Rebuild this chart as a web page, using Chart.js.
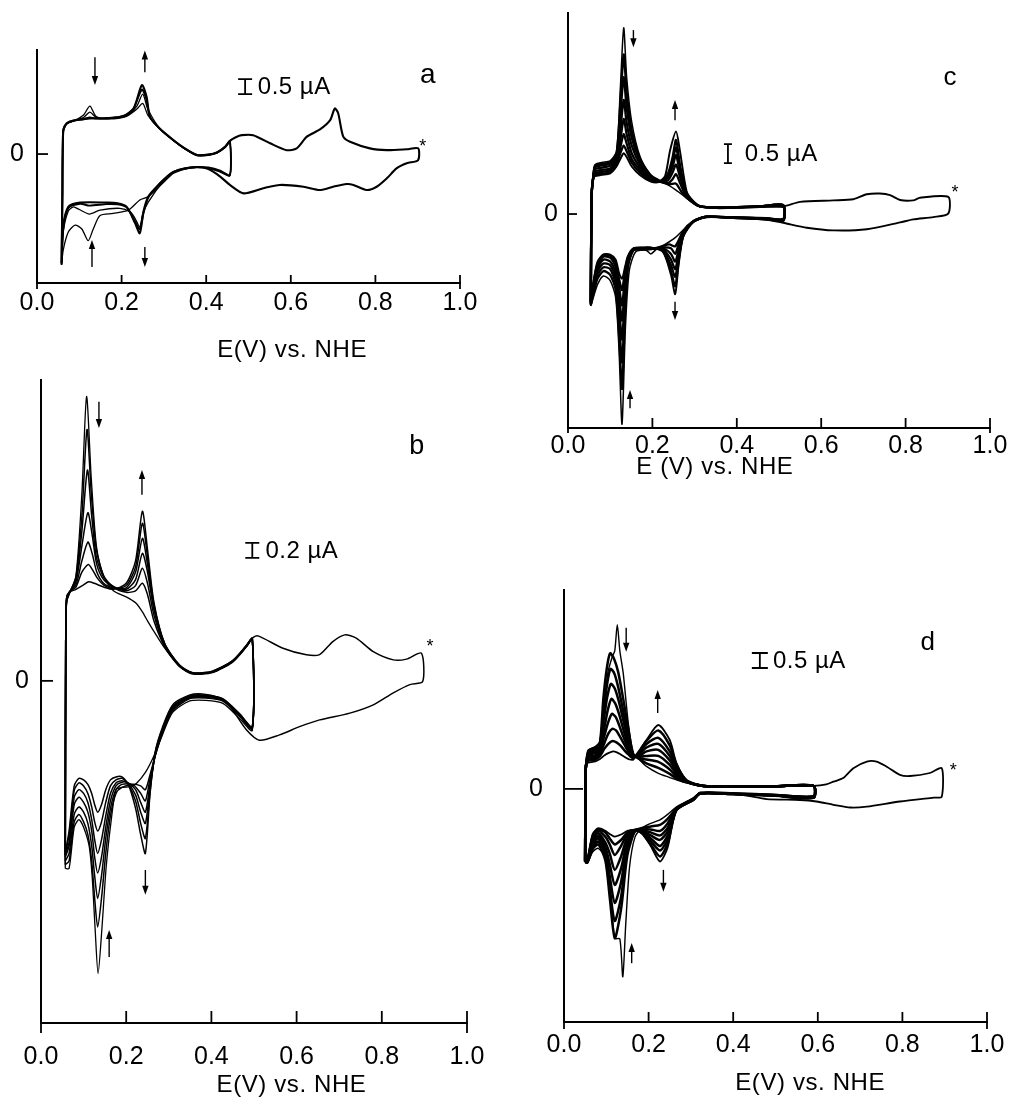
<!DOCTYPE html>
<html>
<head>
<meta charset="utf-8">
<title>Cyclic voltammograms a-d</title>
<script src="https://cdn.jsdelivr.net/npm/chart.js@4.4.1/dist/chart.umd.min.js"></script>
<style>
    body { margin: 0; background: #fff; }
    #figure { position: relative; width: 1011px; height: 1105px; }
    #figure canvas { position: absolute; }
</style>
</head>
<body>
<div id="figure">
    <canvas id="panelA" width="490" height="370" style="left:0px;top:0px"></canvas>
    <canvas id="panelB" width="490" height="735" style="left:0px;top:370px"></canvas>
    <canvas id="panelC" width="511" height="485" style="left:500px;top:0px"></canvas>
    <canvas id="panelD" width="511" height="525" style="left:500px;top:580px"></canvas>
</div>
<script>
// potential axis ticks (V vs. NHE)
const eTicks = [0, 0.2, 0.4, 0.6, 0.8, 1.0];

// ---- panel a : [E (V), I (uA)] ----
const aCycle1 = [[0.058,-3.7],[0.060,-1.5],[0.062,0.7],[0.070,1.0],[0.090,1.12],[0.110,1.3],[0.125,1.6],[0.140,1.25],[0.170,1.17],[0.210,1.25],[0.236,1.5],[0.250,1.69],[0.262,1.3],[0.290,0.85],[0.322,0.45],[0.350,0.17],[0.378,-0.05],[0.405,-0.04],[0.425,0.03],[0.445,0.22],[0.456,0.4],
    [0.456,-0.72],[0.433,-0.6],[0.405,-0.47],[0.378,-0.44],[0.350,-0.5],[0.322,-0.65],[0.299,-0.95],[0.263,-1.42],[0.243,-1.53],[0.216,-1.87],[0.180,-1.98],[0.149,-2.05],[0.133,-2.5],[0.121,-2.89],[0.106,-2.5],[0.090,-2.37],[0.074,-2.6],[0.062,-3.2],[0.058,-3.7]];
const aCycle2 = [[0.058,-3.7],[0.060,-1.5],[0.062,0.75],[0.070,1.01],[0.090,1.12],[0.110,1.22],[0.125,1.4],[0.140,1.22],[0.170,1.18],[0.210,1.26],[0.236,1.6],[0.250,2.0],[0.262,1.5],[0.290,0.85],[0.322,0.46],[0.350,0.17],[0.378,-0.04],[0.405,-0.03],[0.425,0.04],[0.445,0.23],[0.456,0.42],
    [0.456,-0.71],[0.433,-0.58],[0.405,-0.46],[0.378,-0.44],[0.350,-0.49],[0.322,-0.62],[0.299,-0.9],[0.263,-1.6],[0.250,-2.0],[0.243,-2.42],[0.230,-2.1],[0.220,-1.92],[0.196,-1.81],[0.149,-1.87],[0.124,-2.0],[0.100,-1.85],[0.086,-1.76],[0.074,-1.9],[0.062,-2.6],[0.058,-3.7]];
const aCycle3 = [[0.058,-3.68],[0.060,-1.5],[0.062,0.78],[0.070,1.02],[0.086,1.11],[0.110,1.16],[0.125,1.22],[0.140,1.18],[0.170,1.19],[0.204,1.27],[0.228,1.52],[0.248,2.15],[0.259,1.8],[0.267,1.24],[0.290,0.85],[0.322,0.47],[0.350,0.18],[0.378,-0.03],[0.405,-0.02],[0.425,0.05],[0.445,0.24],[0.456,0.42],
    [0.456,-0.7],[0.433,-0.55],[0.405,-0.45],[0.378,-0.43],[0.350,-0.47],[0.322,-0.6],[0.300,-0.85],[0.283,-1.1],[0.263,-1.45],[0.252,-1.95],[0.243,-2.5],[0.232,-2.25],[0.212,-1.78],[0.190,-1.68],[0.165,-1.67],[0.124,-1.72],[0.102,-1.66],[0.074,-1.8],[0.062,-2.5],[0.058,-3.68]];
const aCycleLast = [[0.058,-3.64],[0.060,-1.5],[0.062,0.8],[0.070,1.02],[0.086,1.12],[0.125,1.19],[0.165,1.2],[0.204,1.26],[0.228,1.5],[0.248,2.3],[0.259,1.91],[0.267,1.24],[0.290,0.85],[0.322,0.47],[0.350,0.18],[0.378,-0.03],[0.405,-0.02],[0.425,0.05],[0.445,0.25],[0.456,0.44],[0.470,0.56],[0.484,0.63],[0.511,0.63],[0.551,0.36],[0.590,0.13],[0.614,0.19],[0.638,0.58],[0.669,0.82],[0.693,1.13],[0.704,1.52],[0.712,1.36],[0.724,0.58],[0.740,0.41],[0.787,0.19],[0.827,0.13],[0.874,0.16],[0.901,0.19],
    [0.901,-0.2],[0.874,-0.31],[0.850,-0.48],[0.827,-0.81],[0.803,-1.09],[0.779,-1.2],[0.748,-1.03],[0.732,-1.0],[0.700,-1.09],[0.669,-1.2],[0.630,-1.09],[0.574,-1.03],[0.535,-1.14],[0.488,-1.31],[0.456,-1.03],[0.433,-0.75],[0.405,-0.5],[0.378,-0.44],[0.350,-0.48],[0.322,-0.6],[0.300,-0.85],[0.283,-1.09],[0.263,-1.42],[0.252,-1.9],[0.243,-2.64],[0.232,-2.31],[0.212,-1.76],[0.190,-1.64],[0.165,-1.62],[0.102,-1.62],[0.074,-1.76],[0.062,-2.42],[0.058,-3.64]];

// ---- panel b ----
const bCycle1 = [[0.057,-2.5],[0.058,0.5],[0.060,1.05],[0.066,1.15],[0.082,1.4],[0.096,2.5],[0.107,3.79],[0.118,2.7],[0.130,1.8],[0.147,1.4],[0.170,1.2],[0.200,1.12],[0.222,1.04],[0.238,0.92],[0.250,0.8],[0.265,0.66],[0.290,0.44],[0.325,0.19],[0.356,0.09],[0.403,0.11],[0.450,0.25],[0.482,0.45],[0.496,0.55],
    [0.496,-0.66],[0.466,-0.5],[0.427,-0.3],[0.387,-0.26],[0.348,-0.27],[0.309,-0.42],[0.285,-0.72],[0.265,-1.0],[0.245,-1.22],[0.225,-1.36],[0.210,-1.41],[0.190,-1.42],[0.176,-1.45],[0.165,-1.85],[0.153,-2.48],[0.143,-3.3],[0.134,-3.9],[0.127,-3.3],[0.120,-2.6],[0.113,-2.2],[0.100,-1.95],[0.089,-1.85],[0.078,-1.95],[0.066,-2.5],[0.057,-2.5]];
const bCycle2 = [[0.057,-2.45],[0.058,0.5],[0.060,1.06],[0.066,1.16],[0.082,1.38],[0.096,2.2],[0.108,3.35],[0.118,2.5],[0.130,1.75],[0.147,1.4],[0.170,1.25],[0.200,1.18],[0.222,1.2],[0.238,1.3],[0.250,1.15],[0.265,0.8],[0.290,0.46],[0.325,0.2],[0.356,0.1],[0.403,0.12],[0.450,0.26],[0.482,0.46],[0.496,0.56],
    [0.496,-0.64],[0.466,-0.47],[0.427,-0.27],[0.387,-0.23],[0.348,-0.24],[0.309,-0.4],[0.285,-0.7],[0.268,-1.0],[0.256,-1.25],[0.245,-1.45],[0.234,-1.4],[0.215,-1.38],[0.190,-1.42],[0.176,-1.5],[0.163,-1.8],[0.152,-2.3],[0.142,-2.9],[0.133,-3.28],[0.126,-2.9],[0.119,-2.4],[0.110,-2.05],[0.100,-1.88],[0.089,-1.78],[0.078,-1.88],[0.066,-2.4],[0.057,-2.45]];
const bCycle3 = [[0.057,-2.4],[0.058,0.5],[0.060,1.07],[0.066,1.17],[0.082,1.35],[0.096,2.0],[0.109,2.81],[0.119,2.2],[0.130,1.65],[0.147,1.38],[0.170,1.26],[0.200,1.2],[0.222,1.27],[0.238,1.5],[0.250,1.3],[0.265,0.88],[0.290,0.47],[0.325,0.2],[0.356,0.1],[0.403,0.12],[0.450,0.26],[0.482,0.46],[0.496,0.56],
    [0.496,-0.63],[0.466,-0.46],[0.427,-0.26],[0.387,-0.22],[0.348,-0.23],[0.309,-0.38],[0.285,-0.68],[0.268,-1.0],[0.256,-1.3],[0.245,-1.6],[0.234,-1.5],[0.215,-1.38],[0.190,-1.38],[0.176,-1.45],[0.163,-1.7],[0.152,-2.1],[0.142,-2.6],[0.133,-2.9],[0.126,-2.6],[0.119,-2.2],[0.110,-1.9],[0.100,-1.75],[0.089,-1.68],[0.078,-1.78],[0.066,-2.3],[0.057,-2.4]];
const bCycle4 = [[0.057,-2.35],[0.058,0.5],[0.060,1.08],[0.066,1.17],[0.082,1.32],[0.096,1.8],[0.110,2.24],[0.120,1.95],[0.131,1.55],[0.147,1.35],[0.170,1.25],[0.200,1.22],[0.222,1.35],[0.238,1.7],[0.250,1.45],[0.265,0.95],[0.290,0.48],[0.325,0.2],[0.356,0.1],[0.403,0.12],[0.450,0.26],[0.482,0.46],[0.496,0.56],
    [0.496,-0.62],[0.466,-0.45],[0.427,-0.25],[0.387,-0.21],[0.348,-0.22],[0.309,-0.36],[0.285,-0.66],[0.268,-1.0],[0.256,-1.38],[0.245,-1.75],[0.234,-1.62],[0.222,-1.45],[0.205,-1.36],[0.190,-1.35],[0.176,-1.4],[0.163,-1.6],[0.152,-1.95],[0.142,-2.35],[0.133,-2.56],[0.126,-2.35],[0.119,-2.0],[0.110,-1.75],[0.100,-1.62],[0.089,-1.55],[0.078,-1.65],[0.066,-2.2],[0.057,-2.35]];
const bCycle5 = [[0.057,-2.32],[0.058,0.5],[0.060,1.09],[0.066,1.18],[0.082,1.28],[0.096,1.6],[0.110,1.85],[0.120,1.7],[0.131,1.45],[0.147,1.3],[0.170,1.24],[0.200,1.24],[0.222,1.45],[0.238,1.9],[0.250,1.55],[0.265,1.0],[0.290,0.49],[0.325,0.2],[0.356,0.1],[0.403,0.12],[0.450,0.26],[0.482,0.46],[0.496,0.56],
    [0.496,-0.62],[0.466,-0.44],[0.427,-0.24],[0.387,-0.2],[0.348,-0.21],[0.309,-0.35],[0.285,-0.65],[0.268,-0.98],[0.256,-1.42],[0.245,-1.9],[0.234,-1.75],[0.222,-1.52],[0.205,-1.37],[0.190,-1.33],[0.176,-1.36],[0.163,-1.5],[0.152,-1.8],[0.142,-2.12],[0.133,-2.3],[0.126,-2.12],[0.119,-1.85],[0.110,-1.62],[0.100,-1.5],[0.089,-1.45],[0.078,-1.55],[0.066,-2.15],[0.057,-2.32]];
const bCycle6 = [[0.057,-2.3],[0.058,0.5],[0.060,1.1],[0.066,1.18],[0.082,1.25],[0.096,1.45],[0.111,1.55],[0.121,1.48],[0.131,1.38],[0.147,1.28],[0.170,1.23],[0.200,1.27],[0.222,1.52],[0.238,2.1],[0.250,1.65],[0.265,1.02],[0.290,0.5],[0.325,0.21],[0.356,0.11],[0.403,0.13],[0.450,0.27],[0.482,0.47],[0.496,0.57],
    [0.496,-0.61],[0.466,-0.44],[0.427,-0.24],[0.387,-0.19],[0.348,-0.2],[0.309,-0.34],[0.285,-0.64],[0.268,-0.96],[0.256,-1.48],[0.245,-2.1],[0.234,-1.9],[0.222,-1.6],[0.205,-1.38],[0.190,-1.3],[0.176,-1.32],[0.163,-1.4],[0.152,-1.62],[0.142,-1.88],[0.133,-2.0],[0.126,-1.88],[0.119,-1.68],[0.110,-1.5],[0.100,-1.4],[0.089,-1.36],[0.078,-1.46],[0.066,-2.05],[0.057,-2.3]];
const bCycleLast = [[0.057,-2.3],[0.058,0.5],[0.060,1.1],[0.066,1.18],[0.082,1.22],[0.100,1.28],[0.112,1.32],[0.125,1.3],[0.147,1.25],[0.170,1.22],[0.200,1.3],[0.222,1.6],[0.238,2.26],[0.250,1.75],[0.265,1.05],[0.290,0.5],[0.325,0.21],[0.356,0.11],[0.403,0.13],[0.450,0.27],[0.482,0.47],[0.496,0.57],[0.509,0.6],[0.568,0.435],[0.623,0.347],[0.654,0.35],[0.685,0.524],[0.713,0.613],[0.740,0.57],[0.780,0.39],[0.827,0.28],[0.858,0.29],[0.893,0.37],
    [0.896,-0.01],[0.866,-0.05],[0.827,-0.16],[0.780,-0.32],[0.725,-0.43],[0.654,-0.52],[0.607,-0.61],[0.560,-0.72],[0.513,-0.79],[0.482,-0.65],[0.450,-0.39],[0.427,-0.25],[0.387,-0.18],[0.348,-0.19],[0.309,-0.32],[0.285,-0.62],[0.268,-0.95],[0.256,-1.5],[0.245,-2.3],[0.234,-2.05],[0.222,-1.7],[0.205,-1.38],[0.190,-1.28],[0.176,-1.28],[0.163,-1.32],[0.152,-1.45],[0.142,-1.65],[0.133,-1.75],[0.126,-1.65],[0.119,-1.5],[0.110,-1.38],[0.100,-1.32],[0.089,-1.3],[0.078,-1.4],[0.066,-2.0],[0.057,-2.3]];

// ---- panel c ----
const cCycle1 = [[0.054,-2.42],[0.056,0.5],[0.060,1.0],[0.064,1.3],[0.080,1.36],[0.100,1.4],[0.115,1.65],[0.124,3.3],[0.132,4.9],[0.139,3.6],[0.151,2.42],[0.171,1.5],[0.195,1.05],[0.215,0.9],[0.240,0.75],[0.256,0.63],[0.281,0.42],[0.300,0.27],[0.313,0.2],[0.352,0.17],[0.400,0.18],[0.455,0.21],[0.510,0.25],
    [0.510,-0.12],[0.471,-0.1],[0.392,-0.08],[0.329,-0.07],[0.297,-0.2],[0.273,-0.42],[0.254,-0.62],[0.230,-0.8],[0.210,-0.92],[0.196,-1.05],[0.185,-0.95],[0.160,-1.0],[0.145,-1.5],[0.136,-3.0],[0.128,-5.53],[0.121,-3.6],[0.113,-2.2],[0.100,-1.75],[0.084,-1.63],[0.070,-1.85],[0.060,-2.2],[0.054,-2.42]];
const cCycle2 = [[0.054,-2.4],[0.056,0.5],[0.060,1.0],[0.064,1.27],[0.080,1.32],[0.100,1.36],[0.115,1.6],[0.124,2.9],[0.132,4.2],[0.139,3.2],[0.151,2.2],[0.171,1.45],[0.195,1.02],[0.215,0.88],[0.240,0.78],[0.256,0.8],[0.268,0.6],[0.281,0.43],[0.300,0.27],[0.313,0.2],[0.352,0.17],[0.400,0.18],[0.455,0.2],[0.510,0.24],
    [0.510,-0.13],[0.471,-0.11],[0.392,-0.09],[0.329,-0.07],[0.297,-0.2],[0.273,-0.45],[0.254,-0.85],[0.240,-0.8],[0.220,-0.86],[0.196,-0.92],[0.178,-0.92],[0.155,-0.95],[0.142,-1.4],[0.135,-2.7],[0.128,-4.6],[0.121,-3.2],[0.113,-2.0],[0.100,-1.6],[0.084,-1.5],[0.070,-1.7],[0.060,-2.1],[0.054,-2.4]];
const cCycle3 = [[0.054,-2.38],[0.056,0.5],[0.060,1.0],[0.064,1.23],[0.080,1.28],[0.100,1.32],[0.115,1.52],[0.124,2.6],[0.132,3.6],[0.139,2.8],[0.151,2.0],[0.171,1.38],[0.195,0.98],[0.215,0.86],[0.238,0.82],[0.248,0.92],[0.256,1.05],[0.266,0.8],[0.281,0.45],[0.300,0.27],[0.313,0.2],[0.352,0.17],[0.400,0.18],[0.455,0.2],[0.510,0.23],
    [0.510,-0.14],[0.471,-0.12],[0.392,-0.09],[0.329,-0.07],[0.297,-0.19],[0.273,-0.45],[0.262,-0.8],[0.254,-1.05],[0.244,-0.9],[0.225,-0.88],[0.196,-0.92],[0.178,-0.93],[0.155,-0.95],[0.142,-1.35],[0.135,-2.4],[0.128,-3.9],[0.121,-2.8],[0.113,-1.85],[0.100,-1.45],[0.084,-1.4],[0.070,-1.6],[0.060,-2.05],[0.054,-2.38]];
const cCycle4 = [[0.054,-2.36],[0.056,0.5],[0.060,1.0],[0.064,1.18],[0.080,1.22],[0.100,1.27],[0.115,1.45],[0.124,2.2],[0.132,3.0],[0.139,2.4],[0.151,1.8],[0.171,1.3],[0.195,0.95],[0.215,0.85],[0.236,0.88],[0.248,1.1],[0.256,1.3],[0.266,0.95],[0.281,0.48],[0.300,0.28],[0.313,0.2],[0.352,0.17],[0.400,0.18],[0.455,0.2],[0.510,0.22],
    [0.510,-0.15],[0.471,-0.12],[0.392,-0.09],[0.329,-0.07],[0.297,-0.19],[0.273,-0.5],[0.262,-0.95],[0.254,-1.25],[0.244,-1.05],[0.225,-0.9],[0.196,-0.91],[0.178,-0.92],[0.155,-0.94],[0.142,-1.3],[0.135,-2.1],[0.128,-3.3],[0.121,-2.45],[0.113,-1.7],[0.100,-1.35],[0.084,-1.3],[0.070,-1.5],[0.060,-2.0],[0.054,-2.36]];
const cCycle5 = [[0.054,-2.35],[0.056,0.5],[0.060,0.98],[0.064,1.12],[0.080,1.16],[0.100,1.2],[0.115,1.4],[0.124,1.95],[0.132,2.5],[0.139,2.1],[0.151,1.6],[0.171,1.22],[0.195,0.92],[0.215,0.85],[0.236,0.95],[0.248,1.25],[0.256,1.55],[0.266,1.05],[0.281,0.5],[0.300,0.28],[0.313,0.2],[0.352,0.17],[0.400,0.18],[0.455,0.2],[0.510,0.21],
    [0.510,-0.16],[0.471,-0.13],[0.392,-0.1],[0.329,-0.07],[0.297,-0.19],[0.273,-0.52],[0.262,-1.05],[0.254,-1.45],[0.244,-1.2],[0.225,-0.92],[0.196,-0.9],[0.178,-0.91],[0.155,-0.93],[0.142,-1.25],[0.135,-1.85],[0.128,-2.8],[0.121,-2.15],[0.113,-1.55],[0.100,-1.25],[0.084,-1.2],[0.070,-1.42],[0.060,-1.95],[0.054,-2.35]];
const cCycle6 = [[0.054,-2.33],[0.056,0.5],[0.060,0.97],[0.064,1.08],[0.080,1.11],[0.100,1.15],[0.115,1.35],[0.124,1.75],[0.132,2.1],[0.139,1.85],[0.151,1.45],[0.171,1.15],[0.195,0.9],[0.215,0.85],[0.236,1.0],[0.248,1.4],[0.256,1.75],[0.266,1.15],[0.281,0.52],[0.300,0.29],[0.313,0.2],[0.352,0.17],[0.400,0.18],[0.455,0.2],[0.510,0.2],
    [0.510,-0.17],[0.471,-0.13],[0.392,-0.1],[0.329,-0.07],[0.297,-0.2],[0.273,-0.55],[0.262,-1.15],[0.254,-1.65],[0.244,-1.35],[0.225,-0.95],[0.196,-0.9],[0.178,-0.9],[0.155,-0.92],[0.142,-1.2],[0.135,-1.65],[0.128,-2.4],[0.121,-1.9],[0.113,-1.4],[0.100,-1.15],[0.084,-1.12],[0.070,-1.35],[0.060,-1.9],[0.054,-2.33]];
const cCycle7 = [[0.054,-2.31],[0.056,0.5],[0.060,0.96],[0.064,1.04],[0.080,1.06],[0.100,1.1],[0.115,1.3],[0.124,1.6],[0.132,1.8],[0.139,1.65],[0.151,1.35],[0.171,1.08],[0.195,0.88],[0.215,0.85],[0.236,1.05],[0.248,1.5],[0.256,1.95],[0.266,1.25],[0.281,0.55],[0.300,0.3],[0.313,0.2],[0.352,0.16],[0.400,0.17],[0.455,0.19],[0.510,0.19],
    [0.510,-0.18],[0.471,-0.14],[0.392,-0.1],[0.329,-0.08],[0.297,-0.2],[0.273,-0.58],[0.262,-1.25],[0.254,-1.9],[0.244,-1.5],[0.225,-0.97],[0.196,-0.89],[0.178,-0.89],[0.155,-0.91],[0.142,-1.15],[0.135,-1.5],[0.128,-2.0],[0.121,-1.7],[0.113,-1.3],[0.100,-1.1],[0.084,-1.08],[0.070,-1.3],[0.060,-1.85],[0.054,-2.31]];
const cCycleLast = [[0.054,-2.3],[0.056,0.5],[0.060,0.95],[0.064,1.0],[0.080,1.03],[0.100,1.07],[0.115,1.25],[0.124,1.45],[0.132,1.6],[0.139,1.5],[0.151,1.25],[0.171,1.02],[0.195,0.86],[0.215,0.84],[0.230,1.0],[0.242,1.68],[0.256,2.17],[0.265,1.68],[0.281,0.6],[0.297,0.33],[0.313,0.2],[0.352,0.16],[0.400,0.17],[0.455,0.19],[0.510,0.2],[0.550,0.32],[0.629,0.36],[0.676,0.39],[0.708,0.52],[0.739,0.54],[0.763,0.5],[0.787,0.37],[0.818,0.36],[0.834,0.43],[0.901,0.45],
    [0.901,0.01],[0.866,-0.08],[0.818,-0.14],[0.787,-0.22],[0.708,-0.4],[0.629,-0.43],[0.566,-0.36],[0.510,-0.23],[0.471,-0.15],[0.392,-0.1],[0.329,-0.08],[0.297,-0.21],[0.273,-0.6],[0.262,-1.35],[0.254,-2.11],[0.244,-1.6],[0.225,-1.0],[0.196,-0.88],[0.178,-0.88],[0.155,-0.9],[0.142,-1.1],[0.135,-1.4],[0.128,-1.7],[0.121,-1.55],[0.113,-1.2],[0.100,-1.07],[0.084,-1.06],[0.070,-1.25],[0.060,-1.8],[0.054,-2.3]];

// ---- panel d ----
const dCycle1 = [[0.050,-2.45],[0.051,0.5],[0.053,0.95],[0.058,1.3],[0.074,1.41],[0.085,1.6],[0.093,2.6],[0.104,3.9],[0.114,4.4],[0.120,4.6],[0.126,5.47],[0.132,4.6],[0.140,3.86],[0.152,2.19],[0.164,1.19],[0.180,0.95],[0.195,0.75],[0.223,0.52],[0.250,0.38],[0.266,0.3],[0.290,0.2],[0.330,0.1],[0.400,0.08],[0.500,0.09],[0.590,0.1],
    [0.590,-0.31],[0.500,-0.24],[0.400,-0.18],[0.322,-0.16],[0.306,-0.3],[0.266,-0.6],[0.245,-0.85],[0.227,-1.03],[0.205,-1.15],[0.185,-1.3],[0.168,-1.6],[0.155,-2.6],[0.146,-4.5],[0.139,-6.26],[0.132,-5.0],[0.120,-4.98],[0.108,-3.2],[0.098,-2.3],[0.081,-1.98],[0.068,-2.1],[0.055,-2.48],[0.050,-2.45]];
const dCycle2 = [[0.050,-2.44],[0.051,0.5],[0.053,0.92],[0.058,1.28],[0.074,1.38],[0.085,1.55],[0.093,3.0],[0.101,4.0],[0.109,4.52],[0.118,4.35],[0.128,3.9],[0.140,3.0],[0.152,2.0],[0.164,1.15],[0.180,0.98],[0.195,0.85],[0.223,0.7],[0.250,0.5],[0.266,0.35],[0.290,0.22],[0.330,0.1],[0.400,0.08],[0.500,0.09],[0.590,0.1],
    [0.590,-0.3],[0.500,-0.23],[0.400,-0.17],[0.322,-0.15],[0.306,-0.32],[0.266,-0.65],[0.245,-1.0],[0.227,-1.2],[0.205,-1.25],[0.185,-1.3],[0.168,-1.4],[0.150,-2.2],[0.135,-4.0],[0.120,-4.98],[0.108,-3.6],[0.098,-2.4],[0.081,-1.85],[0.068,-2.0],[0.055,-2.46],[0.050,-2.44]];
const dCycle3 = [[0.050,-2.43],[0.051,0.5],[0.053,0.9],[0.058,1.22],[0.074,1.32],[0.085,1.5],[0.094,2.6],[0.102,3.5],[0.110,4.0],[0.119,3.85],[0.128,3.4],[0.140,2.6],[0.152,1.8],[0.164,1.12],[0.180,1.02],[0.195,0.98],[0.223,0.9],[0.250,0.65],[0.266,0.42],[0.290,0.23],[0.330,0.1],[0.400,0.08],[0.500,0.09],[0.590,0.1],
    [0.590,-0.29],[0.500,-0.22],[0.400,-0.17],[0.322,-0.15],[0.306,-0.33],[0.266,-0.66],[0.245,-1.15],[0.227,-1.4],[0.205,-1.35],[0.185,-1.35],[0.168,-1.4],[0.150,-2.0],[0.135,-3.6],[0.120,-4.4],[0.108,-3.3],[0.098,-2.25],[0.081,-1.75],[0.068,-1.95],[0.055,-2.45],[0.050,-2.43]];
const dCycle4 = [[0.050,-2.42],[0.051,0.5],[0.053,0.89],[0.058,1.17],[0.074,1.26],[0.085,1.42],[0.094,2.3],[0.102,3.05],[0.111,3.5],[0.120,3.35],[0.129,2.95],[0.140,2.3],[0.152,1.6],[0.164,1.1],[0.180,1.08],[0.195,1.1],[0.223,1.1],[0.250,0.8],[0.266,0.5],[0.290,0.24],[0.330,0.1],[0.400,0.08],[0.500,0.09],[0.590,0.1],
    [0.590,-0.28],[0.500,-0.22],[0.400,-0.17],[0.322,-0.15],[0.306,-0.34],[0.266,-0.67],[0.245,-1.3],[0.227,-1.55],[0.205,-1.45],[0.185,-1.38],[0.168,-1.39],[0.150,-1.85],[0.135,-3.1],[0.120,-3.8],[0.108,-2.9],[0.098,-2.1],[0.081,-1.65],[0.068,-1.85],[0.055,-2.44],[0.050,-2.42]];
const dCycle5 = [[0.050,-2.41],[0.051,0.5],[0.053,0.88],[0.058,1.12],[0.074,1.2],[0.085,1.35],[0.095,2.0],[0.103,2.6],[0.112,3.0],[0.121,2.85],[0.130,2.5],[0.140,2.0],[0.152,1.45],[0.164,1.08],[0.180,1.12],[0.195,1.25],[0.223,1.3],[0.250,0.95],[0.266,0.58],[0.290,0.25],[0.330,0.1],[0.400,0.08],[0.500,0.09],[0.590,0.1],
    [0.590,-0.27],[0.500,-0.21],[0.400,-0.16],[0.322,-0.15],[0.306,-0.35],[0.266,-0.68],[0.245,-1.42],[0.227,-1.7],[0.205,-1.55],[0.185,-1.4],[0.168,-1.38],[0.150,-1.72],[0.135,-2.65],[0.120,-3.2],[0.108,-2.5],[0.098,-1.95],[0.081,-1.57],[0.068,-1.78],[0.055,-2.43],[0.050,-2.41]];
const dCycle6 = [[0.050,-2.4],[0.051,0.5],[0.053,0.87],[0.058,1.06],[0.074,1.12],[0.085,1.28],[0.095,1.75],[0.104,2.2],[0.113,2.5],[0.122,2.4],[0.131,2.1],[0.140,1.75],[0.152,1.35],[0.164,1.06],[0.180,1.18],[0.195,1.38],[0.223,1.5],[0.250,1.1],[0.266,0.66],[0.290,0.26],[0.330,0.1],[0.400,0.08],[0.500,0.09],[0.590,0.1],
    [0.590,-0.26],[0.500,-0.21],[0.400,-0.16],[0.322,-0.14],[0.306,-0.35],[0.266,-0.69],[0.245,-1.55],[0.227,-1.9],[0.205,-1.65],[0.185,-1.43],[0.168,-1.37],[0.150,-1.6],[0.135,-2.25],[0.120,-2.7],[0.108,-2.15],[0.098,-1.8],[0.081,-1.48],[0.068,-1.7],[0.055,-2.42],[0.050,-2.4]];
const dCycle7 = [[0.050,-2.39],[0.051,0.5],[0.053,0.86],[0.058,1.0],[0.074,1.04],[0.085,1.18],[0.096,1.55],[0.105,1.85],[0.114,2.0],[0.123,1.95],[0.132,1.75],[0.142,1.5],[0.152,1.25],[0.164,1.04],[0.180,1.25],[0.195,1.5],[0.223,1.7],[0.250,1.25],[0.266,0.74],[0.290,0.27],[0.330,0.1],[0.400,0.08],[0.500,0.09],[0.590,0.1],
    [0.590,-0.25],[0.500,-0.2],[0.400,-0.16],[0.322,-0.14],[0.306,-0.36],[0.266,-0.7],[0.245,-1.68],[0.227,-2.05],[0.205,-1.75],[0.185,-1.45],[0.168,-1.37],[0.150,-1.5],[0.135,-1.9],[0.120,-2.2],[0.108,-1.85],[0.098,-1.6],[0.081,-1.4],[0.068,-1.62],[0.055,-2.41],[0.050,-2.39]];
const dCycle8 = [[0.050,-2.38],[0.051,0.5],[0.053,0.86],[0.058,0.94],[0.074,0.98],[0.085,1.1],[0.096,1.35],[0.106,1.52],[0.115,1.6],[0.124,1.55],[0.133,1.45],[0.142,1.3],[0.152,1.15],[0.164,1.02],[0.180,1.3],[0.195,1.6],[0.223,1.95],[0.250,1.45],[0.266,0.8],[0.290,0.28],[0.330,0.1],[0.400,0.08],[0.500,0.09],[0.590,0.1],
    [0.590,-0.24],[0.500,-0.2],[0.400,-0.15],[0.322,-0.14],[0.306,-0.36],[0.266,-0.7],[0.245,-1.82],[0.227,-2.25],[0.205,-1.85],[0.185,-1.48],[0.168,-1.37],[0.150,-1.45],[0.135,-1.7],[0.120,-1.85],[0.108,-1.65],[0.098,-1.45],[0.081,-1.35],[0.068,-1.55],[0.055,-2.4],[0.050,-2.38]];
const dCycleLast = [[0.050,-2.37],[0.051,0.5],[0.053,0.85],[0.058,0.88],[0.074,0.92],[0.085,1.0],[0.096,1.12],[0.106,1.2],[0.116,1.25],[0.125,1.22],[0.134,1.15],[0.145,1.05],[0.155,0.98],[0.164,0.98],[0.180,1.3],[0.195,1.63],[0.223,2.13],[0.250,1.63],[0.266,0.86],[0.290,0.28],[0.330,0.1],[0.400,0.08],[0.500,0.09],[0.590,0.1],[0.620,0.15],[0.637,0.24],[0.660,0.36],[0.684,0.69],[0.716,0.91],[0.739,0.91],[0.763,0.74],[0.794,0.47],[0.818,0.43],[0.865,0.53],[0.893,0.69],
    [0.893,-0.26],[0.874,-0.29],[0.794,-0.42],[0.716,-0.59],[0.677,-0.62],[0.637,-0.53],[0.597,-0.42],[0.558,-0.37],[0.479,-0.34],[0.420,-0.2],[0.322,-0.14],[0.306,-0.37],[0.266,-0.7],[0.245,-1.95],[0.227,-2.42],[0.205,-1.9],[0.185,-1.5],[0.168,-1.37],[0.150,-1.4],[0.135,-1.52],[0.120,-1.59],[0.108,-1.5],[0.098,-1.4],[0.081,-1.31],[0.068,-1.5],[0.055,-2.4],[0.050,-2.37]];

const FONT = '"Liberation Sans", Arial, Helvetica, sans-serif';

// arrows, scale bars and labels for each panel (positions in data units)
const panelMarks = {
    panelA: {
        tickUp: 8, tickDown: 6, zeroTick: 11,
        arrows: [{x: 0.137, from: 3.23, to: 2.3}, {x: 0.255, from: 2.73, to: 3.45}, {x: 0.13, from: -3.77, to: -2.87}, {x: 0.255, from: -3.1, to: -3.77}],
        bar: {x: 0.492, y: 2.0, h: 0.5, half: 7, tx: 0.522, label: '0.5 µA'},
        texts: [{t: 'a', x: 0.924, y: 2.63, size: 28}, {t: '*', x: 0.912, y: 0.25, size: 18}],
        title: 'E(V) vs. NHE', titleX: 0.603, titleDy: 67
    },
    panelB: {
        tickUp: 12, tickDown: 10, zeroTick: 12,
        arrows: [{x: 0.136, from: 3.72, to: 3.37}, {x: 0.237, from: 2.48, to: 2.81}, {x: 0.245, from: -2.52, to: -2.85}, {x: 0.16, from: -3.68, to: -3.32}],
        bar: {x: 0.496, y: 1.64, h: 0.2, half: 7, tx: 0.527, label: '0.2 µA'},
        texts: [{t: 'b', x: 0.882, y: 3.12, size: 27}, {t: '*', x: 0.913, y: 0.45, size: 18}],
        title: 'E(V) vs. NHE', titleX: 0.588, titleDy: 62
    },
    panelC: {
        tickUp: 10, tickDown: 5, zeroTick: 9,
        arrows: [{x: 0.155, from: 4.84, to: 4.39}, {x: 0.2536, from: 2.47, to: 3.0}, {x: 0.2536, from: -2.31, to: -2.79}, {x: 0.147, from: -5.11, to: -4.63}],
        bar: {x: 0.379, y: 1.34, h: 0.5, half: 4, tx: 0.419, label: '0.5 µA'},
        texts: [{t: 'c', x: 0.905, y: 3.58, size: 26}, {t: '*', x: 0.917, y: 0.55, size: 18}],
        title: 'E (V) vs. NHE', titleX: 0.348, titleDy: 39
    },
    panelD: {
        tickUp: 10, tickDown: 7, zeroTick: 19,
        arrows: [{x: 0.147, from: 5.37, to: 4.57}, {x: 0.2215, from: 2.53, to: 3.3}, {x: 0.235, from: -2.7, to: -3.43}, {x: 0.16, from: -5.81, to: -5.14}],
        bar: {x: 0.463, y: 4.03, h: 0.5, half: 8, tx: 0.494, label: '0.5 µA'},
        texts: [{t: 'd', x: 0.86, y: 4.87, size: 26}, {t: '*', x: 0.92, y: 0.6, size: 18}],
        title: 'E(V) vs. NHE', titleX: 0.582, titleDy: 61
    }
};

const cvMarks = {
    id: 'cvMarks',
    afterDraw(chart) {
        const m = panelMarks[chart.canvas.id];
        if (!m) return;
        const {ctx, chartArea: ca} = chart;
        const xs = chart.scales.x, ys = chart.scales.y;
        ctx.save();
        ctx.strokeStyle = '#000';
        ctx.fillStyle = '#000';

        // inward ticks on the potential axis
        ctx.lineWidth = 1.8;
        for (const t of eTicks) {
            const px = xs.getPixelForValue(t);
            const down = (t === 0 || t === 1) ? m.tickDown : 0;
            ctx.beginPath();
            ctx.moveTo(px, ca.bottom - m.tickUp);
            ctx.lineTo(px, ca.bottom + down);
            ctx.stroke();
        }
        // zero-current tick
        const py0 = ys.getPixelForValue(0);
        ctx.beginPath();
        ctx.moveTo(ca.left, py0);
        ctx.lineTo(ca.left + m.zeroTick, py0);
        ctx.stroke();

        // arrows showing growth / decay with cycling
        ctx.lineWidth = 1.4;
        for (const a of m.arrows) {
            const px = xs.getPixelForValue(a.x);
            const p1 = ys.getPixelForValue(a.from), p2 = ys.getPixelForValue(a.to);
            const dir = Math.sign(p2 - p1);
            ctx.beginPath();
            ctx.moveTo(px, p1);
            ctx.lineTo(px, p2 - dir * 5);
            ctx.stroke();
            ctx.beginPath();
            ctx.moveTo(px, p2);
            ctx.lineTo(px - 3.2, p2 - dir * 9);
            ctx.lineTo(px + 3.2, p2 - dir * 9);
            ctx.closePath();
            ctx.fill();
        }

        // current scale bar
        const b = m.bar;
        const bx = xs.getPixelForValue(b.x);
        const b1 = ys.getPixelForValue(b.y), b2 = ys.getPixelForValue(b.y + b.h);
        ctx.lineWidth = 1.8;
        ctx.beginPath();
        ctx.moveTo(bx, b1); ctx.lineTo(bx, b2);
        ctx.moveTo(bx - b.half, b1); ctx.lineTo(bx + b.half, b1);
        ctx.moveTo(bx - b.half, b2); ctx.lineTo(bx + b.half, b2);
        ctx.stroke();
        ctx.font = '24px ' + FONT;
        ctx.textAlign = 'left';
        ctx.textBaseline = 'middle';
        ctx.letterSpacing = '0.5px';
        ctx.fillText(b.label, xs.getPixelForValue(b.tx), (b1 + b2) / 2 + 1);

        // panel letter and asterisk
        ctx.letterSpacing = '0px';
        ctx.textAlign = 'center';
        for (const t of m.texts) {
            ctx.font = t.size + 'px ' + FONT;
            ctx.fillText(t.t, xs.getPixelForValue(t.x), ys.getPixelForValue(t.y));
        }

        // axis title
        ctx.font = '24px ' + FONT;
        ctx.letterSpacing = '0.6px';
        ctx.fillText(m.title, xs.getPixelForValue(m.titleX), ca.bottom + m.titleDy);
        ctx.restore();
    }
};

function makePanel(id, cycles, widths, p) {
    const datasets = cycles.map((c, k) => ({
        data: c.map(pt => ({x: pt[0], y: pt[1]})),
        borderColor: '#000',
        borderWidth: widths[k],
        pointRadius: 0,
        showLine: true,
        tension: 0.25,
        fill: false
    }));
    const tickFont = {family: FONT, size: 25};
    return new Chart(document.getElementById(id), {
        type: 'scatter',
        data: {datasets: datasets},
        options: {
            responsive: false,
            animation: false,
            devicePixelRatio: 1,
            layout: {padding: {top: p.top, right: p.right, left: 0, bottom: 0}},
            plugins: {legend: {display: false}, tooltip: {enabled: false}},
            scales: {
                x: {
                    type: 'linear', min: 0, max: 1,
                    afterBuildTicks: s => { s.ticks = eTicks.map(v => ({value: v})); },
                    afterFit: s => { s.height = p.xh; s.paddingLeft = 0; s.paddingRight = 0; },
                    ticks: {callback: v => v.toFixed(1), padding: p.xpad, font: tickFont, color: '#000', autoSkip: false, maxRotation: 0},
                    grid: {drawOnChartArea: false, drawTicks: false},
                    border: {color: '#000', width: 2}
                },
                y: {
                    type: 'linear', min: p.ymin, max: p.ymax,
                    afterBuildTicks: s => { s.ticks = [{value: 0}]; },
                    afterFit: s => { s.width = p.yw; s.paddingTop = 0; s.paddingBottom = 0; },
                    ticks: {callback: () => '0', padding: p.ypad, font: tickFont, color: '#000'},
                    grid: {drawOnChartArea: false, drawTicks: false},
                    border: {color: '#000', width: 2}
                }
            }
        },
        plugins: [cvMarks]
    });
}

makePanel('panelA', [aCycle1, aCycle2, aCycle3, aCycleLast], [1.3, 1.3, 1.9, 2.1],
    {top: 50, right: 30, xh: 87, yw: 37, xpad: 5, ypad: 13, ymin: -4.3, ymax: 3.47});
makePanel('panelB', [bCycle1, bCycle2, bCycle3, bCycle4, bCycle5, bCycle6, bCycleLast], [1.3, 1.5, 1.5, 1.5, 1.5, 1.5, 1.5],
    {top: 10, right: 23, xh: 82, yw: 41, xpad: 19, ypad: 12, ymin: -4.56, ymax: 4.01});
makePanel('panelC', [cCycle1, cCycle2, cCycle3, cCycle4, cCycle5, cCycle6, cCycle7, cCycleLast], [1.5, 2.3, 2.3, 2.3, 2.3, 2.3, 2.3, 1.9],
    {top: 13, right: 21, xh: 57, yw: 68, xpad: 3, ypad: 10, ymin: -5.63, ymax: 5.29});
makePanel('panelD', [dCycle1, dCycle2, dCycle3, dCycle4, dCycle5, dCycle6, dCycle7, dCycle8, dCycleLast], [1.4, 2.5, 2.5, 2.5, 2.5, 2.5, 2.5, 2.5, 1.8],
    {top: 10, right: 24, xh: 83, yw: 64, xpad: 8, ypad: 21, ymin: -7.77, ymax: 6.63});
</script>
</body>
</html>
